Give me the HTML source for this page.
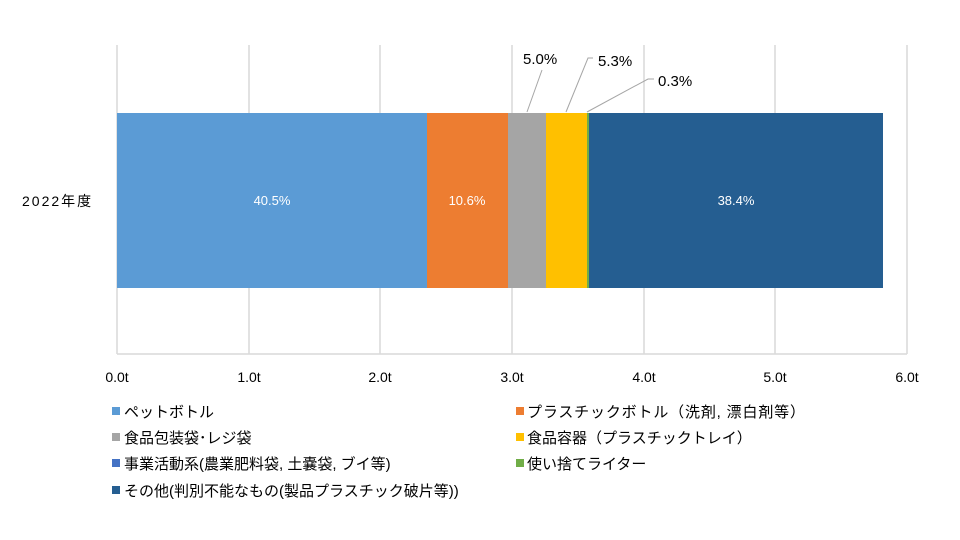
<!DOCTYPE html>
<html><head><meta charset="utf-8"><style>
body{margin:0;background:#fff}
svg{display:block}
text{font-family:"Liberation Sans","Noto Sans CJK JP",sans-serif}
</style></head><body>
<svg width="960" height="540" viewBox="0 0 960 540">
<g stroke="#d9d9d9" stroke-width="1.5">
<line x1="117" y1="45" x2="117" y2="354"/><line x1="249" y1="45" x2="249" y2="354"/>
<line x1="380" y1="45" x2="380" y2="354"/><line x1="512" y1="45" x2="512" y2="354"/>
<line x1="644" y1="45" x2="644" y2="354"/><line x1="775" y1="45" x2="775" y2="354"/>
<line x1="907" y1="45" x2="907" y2="354"/><line x1="117" y1="354" x2="907" y2="354"/>
</g>
<rect x="117" y="113" width="310" height="175" fill="#5b9bd5"/>
<rect x="427" y="113" width="81" height="175" fill="#ed7d31"/>
<rect x="508" y="113" width="38" height="175" fill="#a5a5a5"/>
<rect x="546" y="113" width="41" height="175" fill="#ffc000"/>
<rect x="587" y="113" width="2" height="175" fill="#70ad47"/>
<rect x="589" y="113" width="294" height="175" fill="#255e91"/>
<g fill="#fff" font-size="13" text-anchor="middle">
<text x="272" y="205">40.5%</text><text x="467" y="205">10.6%</text><text x="736" y="205">38.4%</text>
</g>
<g stroke="#a6a6a6" fill="none" stroke-width="1">
<polyline points="527,112 542,70"/>
<polyline points="566,112 588,58 593,58"/>
<polyline points="587,112 648,79 654,79"/>
</g>
<g font-size="15" fill="#000">
<text x="523" y="64">5.0%</text><text x="598" y="66">5.3%</text><text x="658" y="86">0.3%</text>
</g>
<text x="22" y="206" font-size="14" letter-spacing="2">2022年度</text>
<g font-size="14" text-anchor="middle">
<text x="117" y="382">0.0t</text><text x="249" y="382">1.0t</text><text x="380" y="382">2.0t</text>
<text x="512" y="382">3.0t</text><text x="644" y="382">4.0t</text><text x="775" y="382">5.0t</text><text x="907" y="382">6.0t</text>
</g>
<g font-size="15">
<rect x="112" y="407" width="8" height="8" fill="#5b9bd5"/><text x="124" y="417">ペットボトル</text>
<rect x="112" y="433" width="8" height="8" fill="#a5a5a5"/><text x="124" y="443">食品包装袋･レジ袋</text>
<rect x="112" y="459" width="8" height="8" fill="#4472c4"/><text x="124" y="469">事業活動系(農業肥料袋, 土嚢袋, ブイ等)</text>
<rect x="112" y="486" width="8" height="8" fill="#255e91"/><text x="124" y="496">その他(判別不能なもの(製品プラスチック破片等))</text>
<rect x="516" y="407" width="8" height="8" fill="#ed7d31"/><text x="527" y="417" textLength="278">プラスチックボトル（洗剤, 漂白剤等）</text>
<rect x="516" y="433" width="8" height="8" fill="#ffc000"/><text x="527" y="443">食品容器（プラスチックトレイ）</text>
<rect x="516" y="459" width="8" height="8" fill="#70ad47"/><text x="527" y="469">使い捨てライター</text>
</g>
</svg>
</body></html>
